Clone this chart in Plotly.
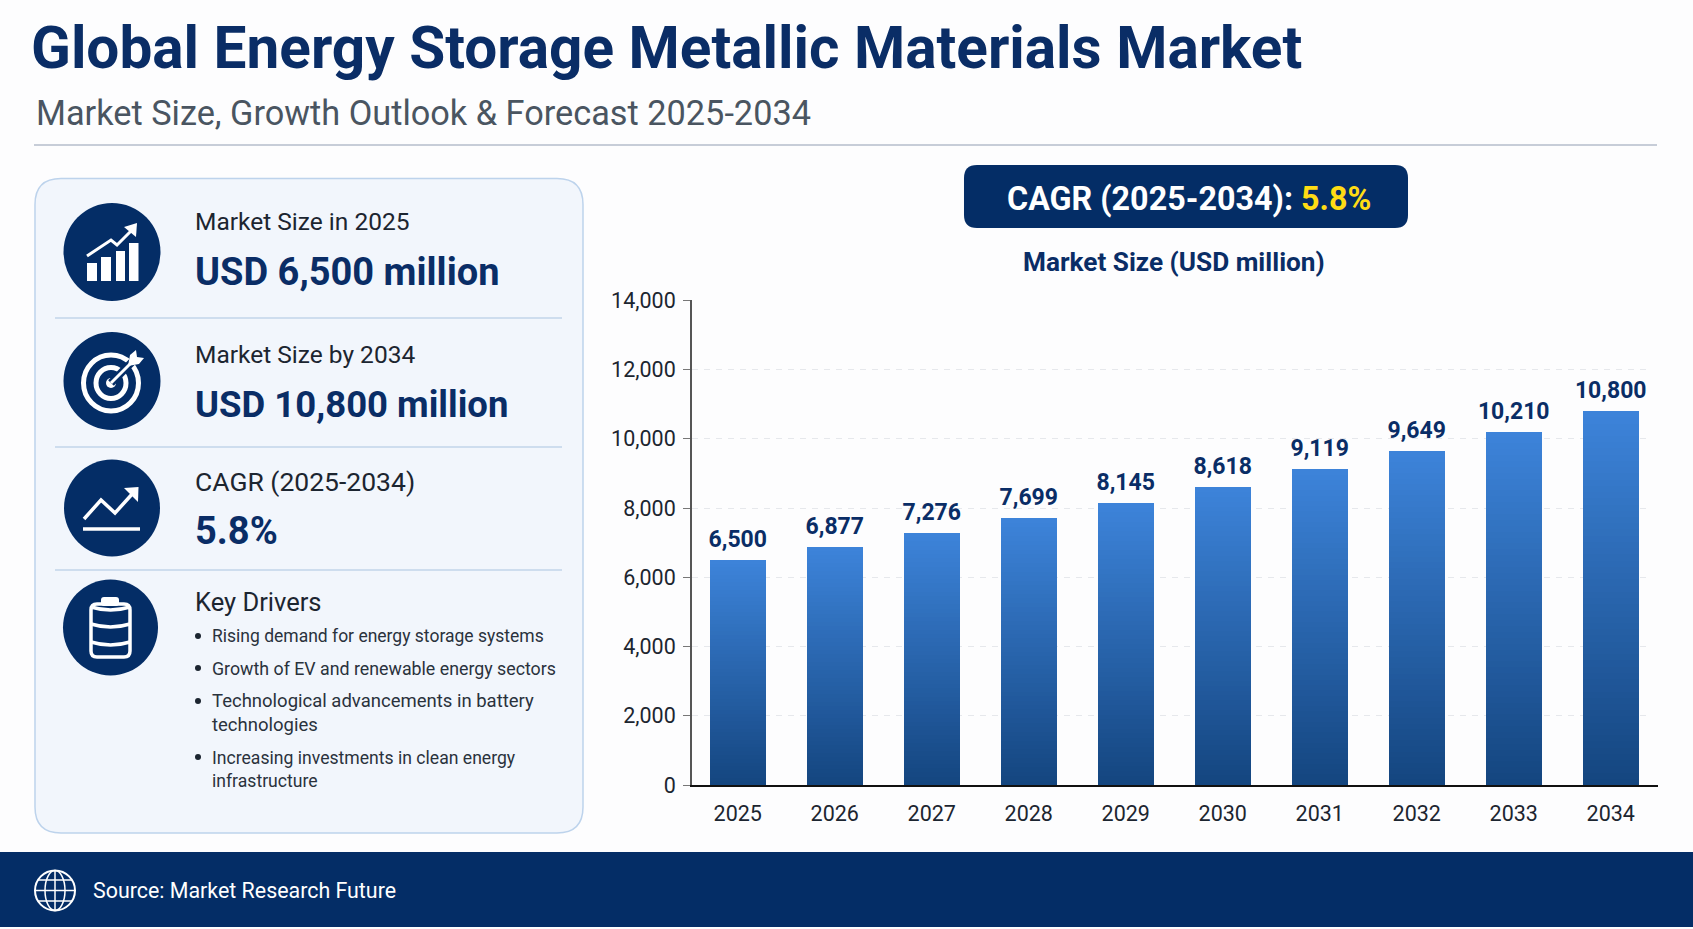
#!/usr/bin/env python3
"""Global Energy Storage Metallic Materials Market infographic"""

import plotly.graph_objects as go

# Data
YEARS = ['2025', '2026', '2027', '2028', '2029', '2030', '2031', '2032', '2033', '2034']
MARKET_SIZE = [6500, 6877, 7276, 7699, 8145, 8618, 9119, 9649, 10210, 10800]
Y_TICKS = [0, 2000, 4000, 6000, 8000, 10000, 12000, 14000]

KPI_LABELS = ['Market Size in 2025', 'Market Size by 2034', 'CAGR (2025-2034)']
KPI_VALUES = ['USD 6,500 million', 'USD 10,800 million', '5.8%']
DRIVERS = [
    'Rising demand for energy storage systems',
    'Growth of EV and renewable energy sectors',
    'Technological advancements in battery<br>technologies',
    'Increasing investments in clean energy<br>infrastructure',
]

W, H = 1693, 929
NAVY = '#042d66'
TITLE_NAVY = '#0a2d66'
FONT = 'Roboto'
N_STEPS = 60  # vertical slices of every bar, gives the gradient
AXIS_BOTTOM = 785


def fx(x):
    return x / W


def fy(y):
    return 1 - y / H


def poly_path(points, close=False):
    path = 'M ' + ' L '.join(f'{fx(x):.5f},{fy(y):.5f}' for x, y in points)
    return path + (' Z' if close else '')


def round_rect_path(x0, y0, x1, y1, r):
    def p(x, y):
        return f'{fx(x):.5f},{fy(y):.5f}'
    return (f'M {p(x0 + r, y0)} L {p(x1 - r, y0)} Q {p(x1, y0)} {p(x1, y0 + r)} '
            f'L {p(x1, y1 - r)} Q {p(x1, y1)} {p(x1 - r, y1)} '
            f'L {p(x0 + r, y1)} Q {p(x0, y1)} {p(x0, y1 - r)} '
            f'L {p(x0, y0 + r)} Q {p(x0, y0)} {p(x0 + r, y0)} Z')


def rect(x0, y0, x1, y1, fill):
    return dict(type='rect', xref='paper', yref='paper', x0=fx(x0), x1=fx(x1), y0=fy(y0), y1=fy(y1),
                fillcolor=fill, line=dict(width=0), layer='below')


def line(x0, y0, x1, y1, color, width=1):
    return dict(type='line', xref='paper', yref='paper', x0=fx(x0), x1=fx(x1), y0=fy(y0), y1=fy(y1),
                line=dict(color=color, width=width), layer='below')


def ellipse(cx, cy, rx, ry, fill='rgba(0,0,0,0)', stroke=None, width=0):
    return dict(type='circle', xref='paper', yref='paper', x0=fx(cx - rx), x1=fx(cx + rx),
                y0=fy(cy + ry), y1=fy(cy - ry), fillcolor=fill,
                line=dict(color=stroke or 'rgba(0,0,0,0)', width=width), layer='below')


def path(d, fill='rgba(0,0,0,0)', stroke=None, width=0):
    return dict(type='path', xref='paper', yref='paper', path=d, fillcolor=fill,
                line=dict(color=stroke or 'rgba(0,0,0,0)', width=width), layer='below')


def label(x, y, text, size, color, bold=False, anchor='left', family=FONT):
    return dict(xref='paper', yref='paper', x=fx(x), y=fy(y), text=f'<b>{text}</b>' if bold else text,
                showarrow=False, xanchor=anchor, yanchor='middle', align='left',
                font=dict(family=family, size=size, color=color))


def step_color(t):
    # t=0 bottom of the bar, t=1 top of the bar
    low = (20, 69, 127)
    high = (61, 132, 218)
    return 'rgb({},{},{})'.format(*[round(a + (b - a) * t) for a, b in zip(low, high)])


def icon_shapes():
    shapes = []
    white = '#ffffff'

    # Chart icon
    shapes.append(ellipse(112, 252, 48.5, 49, fill=NAVY))
    for x0, y0, x1 in [(87, 263, 97), (101, 257, 111), (116, 251, 125), (129, 243, 138.5)]:
        shapes.append(rect(x0, y0, x1, 281, white))
    shapes.append(path(poly_path([(87, 256), (111, 240), (117, 245), (131, 231)]), stroke=white, width=3))
    shapes.append(path(poly_path([(137, 223), (124, 227), (136, 237)], close=True), fill=white))

    # Target icon
    shapes.append(ellipse(112, 381, 48.5, 49, fill=NAVY))
    shapes.append(ellipse(111, 383, 27.5, 28, stroke=white, width=5))
    shapes.append(ellipse(111, 383, 15, 15.5, stroke=white, width=5))
    shapes.append(ellipse(111, 383, 5, 5, fill=white))
    shapes.append(line(111, 383, 134, 360, NAVY, 8))
    shapes.append(line(111, 383, 134, 360, white, 3))
    shapes.append(path(poly_path([(128, 366), (130, 355), (136, 350), (137, 357), (144, 358),
                                  (139, 364)], close=True), fill=white))

    # Trend icon
    shapes.append(ellipse(112, 508, 48, 48.5, fill=NAVY))
    shapes.append(path(poly_path([(84, 519), (101, 500), (115, 513), (134, 492)]), stroke=white, width=3.5))
    shapes.append(path(poly_path([(138.5, 487), (124, 488), (138, 502)], close=True), fill=white))
    shapes.append(line(83, 529, 140, 529, white, 3.5))

    # Battery icon
    shapes.append(ellipse(110.5, 627.5, 47.5, 48, fill=NAVY))
    shapes.append(path(round_rect_path(101, 597, 119, 606, 3), fill=white))
    shapes.append(path(round_rect_path(91, 604, 130, 657, 6), stroke=white, width=3.5))
    for y in [607, 624, 642]:
        d = f'M {fx(91):.5f},{fy(y):.5f} Q {fx(110.5):.5f},{fy(y + 6):.5f} {fx(130):.5f},{fy(y):.5f}'
        shapes.append(path(d, stroke=white, width=3.5))

    # Globe icon in the footer
    shapes.append(ellipse(55, 890.5, 20, 20, stroke=white, width=2))
    shapes.append(ellipse(55, 890.5, 10, 20, stroke=white, width=1.5))
    shapes.append(line(55, 870.5, 55, 910.5, white, 1.5))
    shapes.append(line(35, 890.5, 75, 890.5, white, 1.5))
    shapes.append(line(38, 880, 72, 880, white, 1.5))
    shapes.append(line(38, 901, 72, 901, white, 1.5))
    return shapes


def layout_shapes():
    shapes = [
        rect(0, 0, W, H, '#fdfdfe'),
        line(34, 145, 1657, 145, '#b4bccb', 1.5),
        # Left card
        path(round_rect_path(35, 178.5, 583, 833, 26), fill='#f2f6fc', stroke='#bdd3ec', width=1.5),
        line(55, 318, 562, 318, '#c2d4ea', 1.5),
        line(55, 447, 562, 447, '#c2d4ea', 1.5),
        line(55, 570, 562, 570, '#c2d4ea', 1.5),
        # CAGR pill
        path(round_rect_path(964, 165, 1408, 228, 13), fill=NAVY),
        # Footer
        rect(0, 852, W, 927, NAVY),
        # x axis line runs a little past the gridlines
        line(1651, AXIS_BOTTOM + 1, 1658, AXIS_BOTTOM + 1, '#111111', 2),
    ]

    # Bullet dots of the key drivers
    for y in [636, 668, 701, 757]:
        shapes.append(ellipse(198, y, 3, 3, fill='#1c2530'))
    return shapes + icon_shapes()


def text_annotations():
    notes = [
        label(29, 48, 'Global Energy Storage Metallic Materials Market', 58.5, TITLE_NAVY, bold=True),
        label(33.5, 113, 'Market Size, Growth Outlook &amp; Forecast 2025-2034', 34.3, '#4a5561'),
        label(1188.5, 199,
              'CAGR (2025-2034): <span style="color:#ffdc14">5.8%</span>',
              32.3, '#ffffff', bold=True, anchor='center'),
        label(1174, 262, 'Market Size (USD million)', 26.2, TITLE_NAVY, bold=True, anchor='center'),
        label(91, 890, 'Source: Market Research Future', 21.4, '#ffffff'),
        label(193, 602, 'Key Drivers', 25.5, '#1c2530'),
    ]

    label_y = [221, 354, 481]
    label_size = [24.5, 24.5, 26.5]
    value_y = [272, 404, 531]
    value_size = [38, 36.5, 38]
    for i, text in enumerate(KPI_LABELS):
        notes.append(label(193, label_y[i], text, label_size[i], '#1c2530'))
        notes.append(label(193, value_y[i], KPI_VALUES[i], value_size[i], TITLE_NAVY, bold=True))

    driver_y = [636, 668, 713, 769.5]
    driver_size = [17.5, 17.8, 18.5, 17.6]
    for text, y, size in zip(DRIVERS, driver_y, driver_size):
        notes.append(label(209.5, y, text, size, '#2a323c'))
    return notes


fig = go.Figure()

# Stacked slices, every bar ends up at its value
for i in range(N_STEPS):
    fig.add_trace(go.Bar(
        x=YEARS,
        y=[v / N_STEPS for v in MARKET_SIZE],
        marker=dict(color=step_color((i + 0.5) / N_STEPS), line=dict(width=0)),
        width=0.573,
        hoverinfo='skip',
        showlegend=False,
    ))

# Value labels, the invisible marker lifts the text off the bar
fig.add_trace(go.Scatter(
    x=YEARS,
    y=MARKET_SIZE,
    mode='markers+text',
    marker=dict(size=10, opacity=0),
    text=[f'<b>{v:,}</b>' for v in MARKET_SIZE],
    textposition='top center',
    textfont=dict(family=FONT, size=23, color=TITLE_NAVY),
    hovertemplate='%{x}: %{y:,}<extra></extra>',
    showlegend=False,
))

fig.update_layout(
    width=W,
    height=H,
    margin=dict(l=0, r=0, t=0, b=0),
    barmode='stack',
    paper_bgcolor='#fdfdfe',
    plot_bgcolor='rgba(0,0,0,0)',
    font=dict(family=FONT, color='#1c2530'),
    shapes=layout_shapes(),
    annotations=text_annotations(),
    xaxis=dict(
        domain=[691.8 / W, 1651 / W],
        type='category',
        categoryorder='array',
        categoryarray=YEARS,
        range=[-0.474, 9.415],
        automargin=False,
        showgrid=False,
        showline=True,
        linecolor='#111111',
        linewidth=2,
        ticks='',
        ticklabelstandoff=8,
        tickfont=dict(family=FONT, size=21.5, color='#1c2530'),
        anchor='y',
    ),
    yaxis=dict(
        domain=[1 - AXIS_BOTTOM / H, 1 - 300.3 / H],
        range=[0, 14000],
        tickvals=Y_TICKS,
        tickformat=',',
        automargin=False,
        showgrid=True,
        gridcolor='#e6e8ec',
        griddash='6px,6px',
        gridwidth=1,
        zeroline=False,
        showline=True,
        linecolor='#555555',
        linewidth=1.5,
        ticks='outside',
        ticklen=7,
        tickcolor='#777777',
        ticklabelstandoff=3,
        tickfont=dict(family=FONT, size=21.5, color='#1c2530'),
    ),
)

fig.write_html('out.html', config={'displayModeBar': False},
               post_script="document.body.style.margin='0';")
